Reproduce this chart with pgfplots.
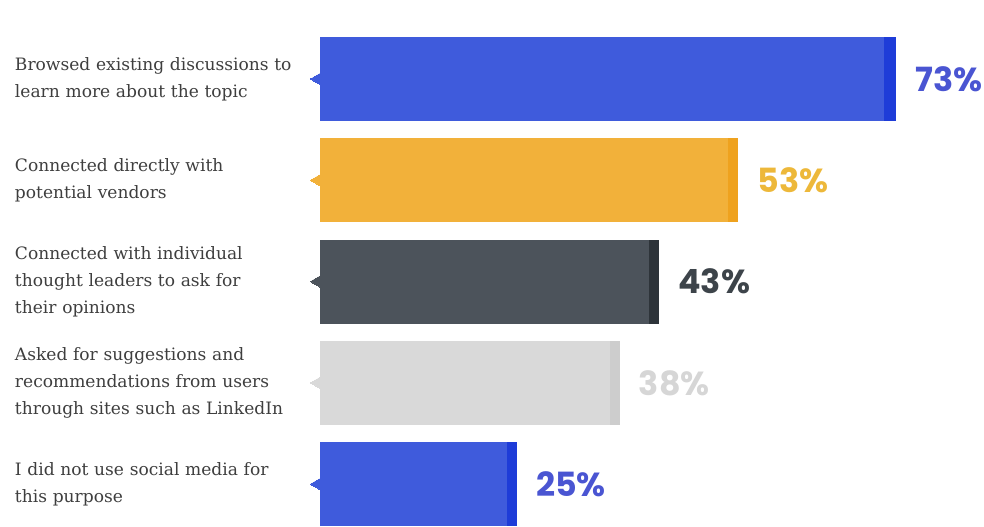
\documentclass[border=0pt]{standalone}
\usepackage{pgfplots}
\pgfplotsset{compat=1.18}
\usepackage{fontspec}
\setmainfont{DejaVu Serif}
\newfontfamily\valfont{Poppins}
\definecolor{cblue}{HTML}{3F5BDC}
\definecolor{cbluedk}{HTML}{1E3CD8}
\definecolor{cbluetxt}{HTML}{4A55D2}
\definecolor{cgold}{HTML}{F2B13A}
\definecolor{cgolddk}{HTML}{EFA21E}
\definecolor{cgoldtxt}{HTML}{EDB83A}
\definecolor{cdark}{HTML}{4C535B}
\definecolor{cdarkdk}{HTML}{2E343A}
\definecolor{cdarktxt}{HTML}{3D444A}
\definecolor{clight}{HTML}{D9D9D9}
\definecolor{clightdk}{HTML}{CDCDCD}
\definecolor{clighttxt}{HTML}{D6D6D6}
\definecolor{clabel}{HTML}{3E3E3E}
\pgfplotsset{
  mybar/.style={xbar, bar width=0.83, bar shift=0pt, draw=none},
  valnode/.style={nodes near coords={\pgfmathprintnumber{\pgfplotspointmeta}\%},
    every node near coord/.append style={anchor=west, inner sep=0pt, xshift=14pt,
      font=\valfont\bfseries\fontsize{25}{25}\selectfont, text=#1}},
  pointer/.style={only marks, color=#1, mark=triangle*, mark size=5pt,
    mark options={rotate=90, fill=#1, draw=#1, line width=0pt}},
}
\begin{document}
\begin{tikzpicture}
\begin{axis}[
  scale only axis, width=498pt, height=393.75pt,
  xmin=0, xmax=84.1, ymin=-0.405, ymax=4.78,
  clip=false,
  /pgf/number format/assume math mode=true,
  axis line style={draw=none}, tick style={draw=none},
  xtick=\empty, ytick={0,1,2,3,4},
  yticklabels={
    {I did not use social media for\\this purpose},
    {Asked for suggestions and\\recommendations from users\\through sites such as LinkedIn},
    {Connected with individual\\thought leaders to ask for\\their opinions},
    {Connected directly with\\potential vendors},
    {Browsed existing discussions to\\learn more about the topic}},
  yticklabel style={anchor=west, xshift=-240pt, text width=240pt, align=left,
    inner xsep=11.25pt, inner ysep=0pt, font=\fontsize{12.8}{20.2}\selectfont, text=clabel},
]
% bar 1
\addplot[mybar, fill=cbluedk, valnode=cbluetxt] coordinates {(73,4)};
\addplot[mybar, fill=cblue] coordinates {(71.4,4)};
% bar 2
\addplot[mybar, fill=cgolddk, valnode=cgoldtxt] coordinates {(53,3)};
\addplot[mybar, fill=cgold] coordinates {(51.7,3)};
% bar 3
\addplot[mybar, fill=cdarkdk, valnode=cdarktxt] coordinates {(43,2)};
\addplot[mybar, fill=cdark] coordinates {(41.7,2)};
% bar 4
\addplot[mybar, fill=clightdk, valnode=clighttxt] coordinates {(38,1)};
\addplot[mybar, fill=clight] coordinates {(36.8,1)};
% bar 5
\addplot[mybar, fill=cbluedk, valnode=cbluetxt] coordinates {(25,0)};
\addplot[mybar, fill=cblue] coordinates {(23.7,0)};
% pointers
\addplot[pointer=cblue] coordinates {(-0.35,4)};
\addplot[pointer=cgold] coordinates {(-0.35,3)};
\addplot[pointer=cdark] coordinates {(-0.35,2)};
\addplot[pointer=clight] coordinates {(-0.35,1)};
\addplot[pointer=cblue] coordinates {(-0.35,0)};
\end{axis}
\end{tikzpicture}
\end{document}
